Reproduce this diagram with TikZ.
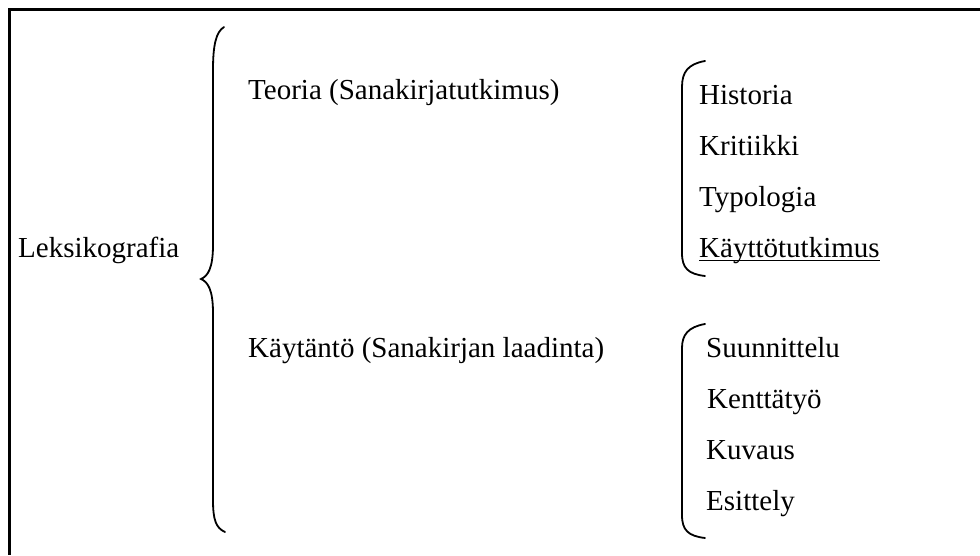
\documentclass[tikz,border=0pt]{standalone}
\usepackage{fontspec}
\setmainfont{Liberation Serif}
\begin{document}
\begin{tikzpicture}[x=1pt,y=-1pt,
  lbl/.style={anchor=base west,inner sep=0pt,font=\fontsize{29}{34}\selectfont},
  brk/.style={line width=1.8pt,line cap=round},
  frame/.style={line width=3pt}]
\useasboundingbox (0,0) rectangle (980,555);
% frame (open at right and bottom)
\draw[frame] (980,9.5) -- (9.5,9.5) -- (9.5,555);
% texts
\node[lbl] (lek) at (18,257) {Leksikografia};
\node[lbl] (teo) at (248,99) {Teoria (Sanakirjatutkimus)};
\node[lbl] (kay) at (248,357) {Käytäntö (Sanakirjan laadinta)};
\node[lbl] (his) at (699,104) {Historia};
\node[lbl] (kri) at (699,155) {Kritiikki};
\node[lbl] (typ) at (699,206) {Typologia};
\node[lbl] (kt) at (699,257) {Käyttötutkimus};
\node[lbl] (suu) at (706,357) {Suunnittelu};
\node[lbl] (ken) at (707,408) {Kenttätyö};
\node[lbl] (kuv) at (706,459) {Kuvaus};
\node[lbl] (esi) at (706,510) {Esittely};
\draw[line width=1.3pt] ([yshift=-3.5pt]kt.base west) -- ([yshift=-3.5pt]kt.base east);
% big brace
\draw[brk] (224,27) .. controls (216,32) and (213,45) .. (213,70) -- (213,245)
  .. controls (213,268) and (208,276) .. (201,279)
  .. controls (208,282) and (213,290) .. (213,313) -- (213,500)
  .. controls (213,520) and (216,528) .. (225,532);
% first group bracket
\draw[brk] (705,61) .. controls (688,64) and (682,72) .. (682,87) -- (682,253)
  .. controls (682,268) and (688,274) .. (705,276);
% second group bracket
\draw[brk] (705,324) .. controls (688,327) and (682,335) .. (682,348) -- (682,515)
  .. controls (682,530) and (688,536) .. (705,538);
\end{tikzpicture}
\end{document}
